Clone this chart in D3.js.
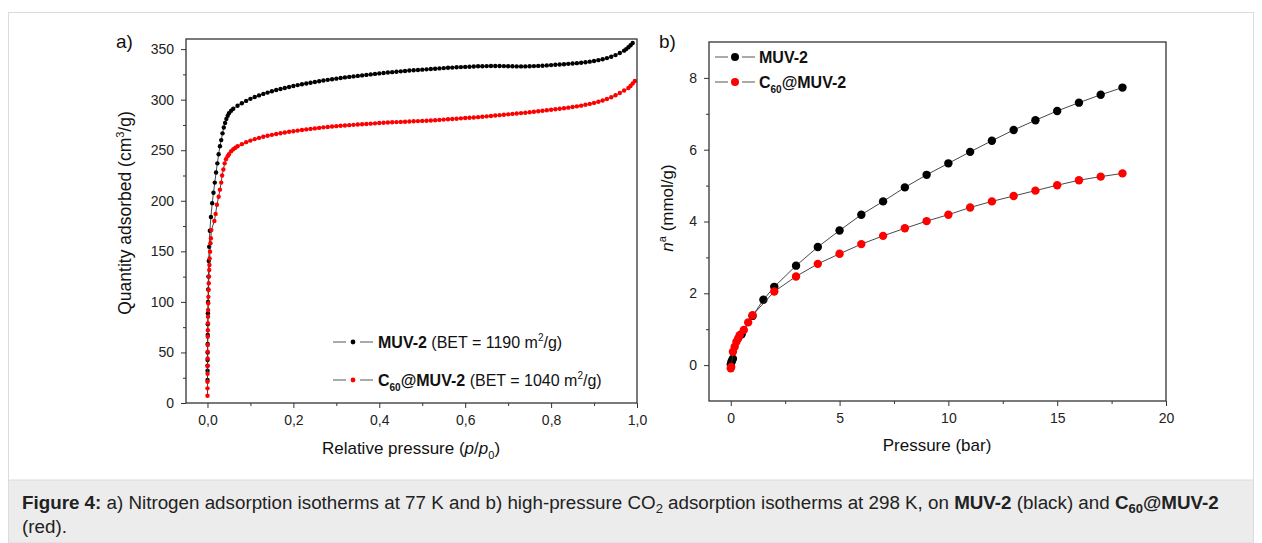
<!DOCTYPE html>
<html>
<head>
<meta charset="utf-8">
<script src="https://cdn.jsdelivr.net/npm/d3@7"></script>
<style>
  body { margin: 0; background: #fff; }
  svg { font-family: "Liberation Sans", Arial, sans-serif; }
  .tick text { font-size: 14px; fill: #222; }
  .tick line { stroke: #333; }
</style>
</head>
<body>
<svg id="fig" width="1262" height="543"></svg>
<script>
// a) N2 isotherms at 77 K, [p/p0, cm3/g]
const n2Muv2 = [
  [0.00005, 22.7], [0.0001, 32], [0.00015, 37], [0.0002, 42.5], [0.0003, 50], [0.0004, 58.4],
  [0.0006, 67.3], [0.0008, 78], [0.001, 88.7], [0.0013, 100], [0.0017, 112.4], [0.0022, 125],
  [0.003, 140.5], [0.004, 154.6], [0.0055, 170.4], [0.008, 184], [0.011, 197.5], [0.014, 208],
  [0.017, 218], [0.02, 228], [0.023, 237], [0.026, 246], [0.029, 254], [0.032, 260],
  [0.035, 266.7], [0.038, 272.5], [0.041, 277], [0.044, 281], [0.047, 284], [0.05, 286.5],
  [0.055, 289], [0.06, 291], [0.07, 294], [0.08, 296.5], [0.09, 298.8], [0.10, 300.8],
  [0.11, 302.6], [0.12, 304.2], [0.13, 305.7], [0.14, 307], [0.15, 308.3], [0.16, 309.5],
  [0.17, 310.6], [0.18, 311.6], [0.19, 312.6], [0.20, 313.5], [0.21, 314.4], [0.22, 315.2],
  [0.23, 316], [0.24, 316.8], [0.25, 317.5], [0.26, 318.2], [0.27, 318.9], [0.28, 319.6],
  [0.29, 320.2], [0.30, 320.8], [0.31, 321.4], [0.32, 322], [0.33, 322.5], [0.34, 323],
  [0.35, 323.5], [0.36, 324], [0.37, 324.5], [0.38, 325], [0.39, 325.5], [0.40, 326],
  [0.41, 326.4], [0.42, 326.8], [0.43, 327.2], [0.44, 327.6], [0.45, 328], [0.46, 328.4],
  [0.47, 328.8], [0.48, 329.1], [0.49, 329.4], [0.50, 329.7], [0.51, 330], [0.52, 330.3],
  [0.53, 330.6], [0.54, 330.9], [0.55, 331.2], [0.56, 331.5], [0.57, 331.7], [0.58, 332],
  [0.59, 332.2], [0.60, 332.4], [0.61, 332.6], [0.62, 332.8], [0.63, 333], [0.64, 333.1],
  [0.65, 333.2], [0.66, 333.3], [0.67, 333.3], [0.68, 333.3], [0.69, 333.2], [0.70, 333.1],
  [0.71, 333], [0.72, 332.9], [0.73, 332.9], [0.74, 332.9], [0.75, 333], [0.76, 333.2],
  [0.77, 333.4], [0.78, 333.6], [0.79, 333.9], [0.80, 334.2], [0.81, 334.5], [0.82, 334.8],
  [0.83, 335.1], [0.84, 335.4], [0.85, 335.7], [0.86, 336.1], [0.87, 336.5], [0.88, 337],
  [0.89, 337.6], [0.90, 338.3], [0.91, 339.1], [0.92, 340], [0.93, 341.1], [0.94, 342.5],
  [0.95, 344.1], [0.96, 346.2], [0.97, 348.5], [0.975, 350], [0.98, 351.8], [0.985, 353.8],
  [0.99, 356]
];
const n2C60 = [
  [0.00003, 7.2], [0.00006, 14.5], [0.0001, 21], [0.00015, 29], [0.0002, 36.6], [0.0003, 44],
  [0.0004, 50.8], [0.0005, 57.4], [0.0007, 65.6], [0.0009, 72], [0.0011, 78.8], [0.0013, 85.4],
  [0.0015, 92], [0.0018, 98.6], [0.0021, 105], [0.0025, 111.8], [0.003, 118.4], [0.0035, 125],
  [0.004, 131.6], [0.0045, 136.5], [0.005, 143], [0.006, 149.7], [0.007, 158], [0.008, 163],
  [0.009, 171], [0.016, 180], [0.019, 187], [0.022, 196], [0.026, 204], [0.029, 211],
  [0.032, 218], [0.034, 225], [0.037, 231], [0.04, 237], [0.043, 241], [0.047, 244],
  [0.05, 246], [0.055, 249], [0.06, 251], [0.065, 252.5], [0.07, 254], [0.08, 256],
  [0.09, 258], [0.10, 259.5], [0.11, 261], [0.12, 262.2], [0.13, 263.3], [0.14, 264.3],
  [0.15, 265.2], [0.16, 266], [0.17, 266.8], [0.18, 267.5], [0.19, 268.2], [0.20, 268.8],
  [0.21, 269.4], [0.22, 270], [0.23, 270.6], [0.24, 271.1], [0.25, 271.6], [0.26, 272.1],
  [0.27, 272.6], [0.28, 273], [0.29, 273.4], [0.30, 273.8], [0.31, 274.2], [0.32, 274.5],
  [0.33, 274.8], [0.34, 275.1], [0.35, 275.4], [0.36, 275.7], [0.37, 276], [0.38, 276.3],
  [0.39, 276.6], [0.40, 276.9], [0.41, 277.2], [0.42, 277.4], [0.43, 277.6], [0.44, 277.8],
  [0.45, 278], [0.46, 278.2], [0.47, 278.4], [0.48, 278.6], [0.49, 278.8], [0.50, 279],
  [0.51, 279.2], [0.52, 279.4], [0.53, 279.7], [0.54, 280], [0.55, 280.3], [0.56, 280.6],
  [0.57, 280.9], [0.58, 281.2], [0.59, 281.5], [0.60, 281.8], [0.61, 282.1], [0.62, 282.4],
  [0.63, 282.7], [0.64, 283.1], [0.65, 283.5], [0.66, 283.9], [0.67, 284.3], [0.68, 284.7],
  [0.69, 285.1], [0.70, 285.5], [0.71, 285.9], [0.72, 286.3], [0.73, 286.7], [0.74, 287.1],
  [0.75, 287.5], [0.76, 288], [0.77, 288.5], [0.78, 289], [0.79, 289.5], [0.80, 290],
  [0.81, 290.5], [0.82, 291], [0.83, 291.5], [0.84, 292.1], [0.85, 292.7], [0.86, 293.4],
  [0.87, 294.1], [0.88, 294.9], [0.89, 295.8], [0.90, 296.8], [0.91, 297.9], [0.92, 299.2],
  [0.93, 300.7], [0.94, 302.4], [0.95, 304.4], [0.96, 306.6], [0.97, 309], [0.98, 311.5],
  [0.985, 313.5], [0.99, 316], [0.995, 318.5]
];

// b) CO2 isotherms at 298 K, [bar, mmol/g]
const co2Muv2 = [
  [0.0, 0.02], [0.03, 0.08], [0.06, 0.13], [0.1, 0.18], [0.5, 0.86], [1.0, 1.37],
  [1.5, 1.82], [2, 2.18], [3, 2.77], [4, 3.29], [5, 3.75], [6, 4.19], [7, 4.56],
  [8, 4.95], [9, 5.30], [10, 5.62], [11, 5.94], [12, 6.25], [13, 6.55], [14, 6.82],
  [15, 7.08], [16, 7.31], [17, 7.53], [18, 7.73]
];
const co2C60 = [
  [0.0, -0.09], [0.02, -0.05], [0.1, 0.37], [0.18, 0.51], [0.26, 0.65], [0.34, 0.74],
  [0.41, 0.83], [0.6, 0.98], [0.8, 1.19], [1.0, 1.39], [2, 2.05], [3, 2.47], [4, 2.82],
  [5, 3.10], [6, 3.37], [7, 3.60], [8, 3.81], [9, 4.01], [10, 4.19], [11, 4.39],
  [12, 4.56], [13, 4.71], [14, 4.86], [15, 5.01], [16, 5.15], [17, 5.25], [18, 5.34]
];

const aXTicks = [0, 0.2, 0.4, 0.6, 0.8, 1.0];
const aXMinor = [0.1, 0.3, 0.5, 0.7, 0.9];
const aYTicks = [0, 50, 100, 150, 200, 250, 300, 350];
const aYMinor = [25, 75, 125, 175, 225, 275, 325];
const bXTicks = [0, 5, 10, 15, 20];
const bXMinor = [2.5, 7.5, 12.5, 17.5];
const bYTicks = [0, 2, 4, 6, 8];
const bYMinor = [1, 3, 5, 7];

const svg = d3.select('#fig');

// page frame and caption box
svg.append('rect')
  .attr('x', 8.5).attr('y', 12.5).attr('width', 1245).attr('height', 540)
  .attr('fill', 'none').attr('stroke', '#dcdcdc');
svg.append('rect')
  .attr('x', 8.5).attr('y', 480).attr('width', 1245).attr('height', 63)
  .attr('fill', '#ececec').attr('stroke', '#dcdcdc');

function drawFrame(g, x, y) {
  const [x0, x1] = x.range();
  const [y0, y1] = y.range();
  g.append('rect')
    .attr('x', x0).attr('y', y1)
    .attr('width', x1 - x0).attr('height', y0 - y1)
    .attr('fill', 'none').attr('stroke', '#333').attr('stroke-width', 1.3);
}

function drawAxes(g, x, y, opts) {
  const bottom = y.range()[0];
  const left = x.range()[0];

  g.append('g')
    .attr('transform', `translate(0, ${bottom})`)
    .call(d3.axisBottom(x).tickValues(opts.xMinor).tickSize(3).tickFormat(''))
    .call(a => a.select('.domain').remove());
  g.append('g')
    .attr('transform', `translate(0, ${bottom})`)
    .call(d3.axisBottom(x).tickValues(opts.xTicks).tickSize(5).tickPadding(7).tickFormat(opts.xFormat))
    .call(a => a.select('.domain').remove());

  g.append('g')
    .attr('transform', `translate(${left}, 0)`)
    .call(d3.axisLeft(y).tickValues(opts.yMinor).tickSize(3).tickFormat(''))
    .call(a => a.select('.domain').remove());
  g.append('g')
    .attr('transform', `translate(${left}, 0)`)
    .call(d3.axisLeft(y).tickValues(opts.yTicks).tickSize(5).tickPadding(7).tickFormat(opts.yFormat))
    .call(a => a.select('.domain').remove());
}

function drawSeries(g, data, x, y, color, r) {
  const line = d3.line()
    .x(d => x(d[0]))
    .y(d => y(d[1]));

  g.append('path')
    .datum(data)
    .attr('d', line)
    .attr('fill', 'none')
    .attr('stroke', '#333')
    .attr('stroke-width', 0.9);

  g.selectAll(null)
    .data(data)
    .enter()
    .append('circle')
    .attr('cx', d => x(d[0]))
    .attr('cy', d => y(d[1]))
    .attr('r', r)
    .attr('fill', color);
}

function legendSymbol(g, x, y, color, r) {
  g.append('line')
    .attr('x1', x).attr('x2', x + 40).attr('y1', y).attr('y2', y)
    .attr('stroke', '#555').attr('stroke-width', 1)
    .attr('stroke-dasharray', '13,14,13');
  g.append('circle')
    .attr('cx', x + 20).attr('cy', y).attr('r', r).attr('fill', color);
}

// ---------- panel a ----------
function drawPanelA() {
  const g = svg.append('g');
  const x = d3.scaleLinear().domain([-0.05, 1.0]).range([186, 637]);
  const y = d3.scaleLinear().domain([0, 360]).range([403, 39]);
  const comma = d => d3.format('.1f')(d).replace('.', ',');

  drawAxes(g, x, y, {
    xTicks: aXTicks, xMinor: aXMinor, xFormat: comma,
    yTicks: aYTicks, yMinor: aYMinor, yFormat: d3.format('d')
  });

  drawSeries(g, n2Muv2, x, y, '#000', 2.2);
  drawSeries(g, n2C60, x, y, '#ff0000', 2.2);
  drawFrame(g, x, y);

  // legend
  legendSymbol(g, 333, 342, '#000', 2.4);
  legendSymbol(g, 333, 380, '#ff0000', 2.4);

  const t1 = g.append('text').attr('x', 378).attr('y', 348).style('font-size', '16px').attr('fill', '#111');
  t1.append('tspan').style('font-weight', 'bold').text('MUV-2');
  t1.append('tspan').text(' (BET = 1190 m');
  t1.append('tspan').attr('dy', -7).style('font-size', '10px').text('2');
  t1.append('tspan').attr('dy', 7).text('/g)');

  const t2 = g.append('text').attr('x', 378).attr('y', 386).style('font-size', '16px').attr('fill', '#111');
  t2.append('tspan').style('font-weight', 'bold').text('C');
  t2.append('tspan').attr('dy', 5).style('font-size', '10px').style('font-weight', 'bold').text('60');
  t2.append('tspan').attr('dy', -5).style('font-weight', 'bold').text('@MUV-2');
  t2.append('tspan').text(' (BET = 1040 m');
  t2.append('tspan').attr('dy', -7).style('font-size', '10px').text('2');
  t2.append('tspan').attr('dy', 7).text('/g)');

  // axis titles
  const xt = g.append('text').attr('x', 411).attr('y', 454)
    .attr('text-anchor', 'middle').style('font-size', '17px').attr('fill', '#111');
  xt.append('tspan').text('Relative pressure (');
  xt.append('tspan').style('font-style', 'italic').text('p');
  xt.append('tspan').text('/');
  xt.append('tspan').style('font-style', 'italic').text('p');
  xt.append('tspan').attr('dy', 5).style('font-size', '11px').text('0');
  xt.append('tspan').attr('dy', -5).text(')');

  const yt = g.append('text')
    .attr('transform', 'translate(131, 213) rotate(-90)')
    .attr('text-anchor', 'middle').style('font-size', '17.5px').attr('fill', '#111');
  yt.append('tspan').text('Quantity adsorbed (cm');
  yt.append('tspan').attr('dy', -7).style('font-size', '11px').text('3');
  yt.append('tspan').attr('dy', 7).text('/g)');

  g.append('text').attr('x', 116).attr('y', 48).style('font-size', '19px').attr('fill', '#111').text('a)');
}

// ---------- panel b ----------
function drawPanelB() {
  const g = svg.append('g');
  const x = d3.scaleLinear().domain([-1, 20]).range([709, 1166]);
  const y = d3.scaleLinear().domain([-1, 9]).range([401, 42]);

  drawAxes(g, x, y, {
    xTicks: bXTicks, xMinor: bXMinor, xFormat: d3.format('d'),
    yTicks: bYTicks, yMinor: bYMinor, yFormat: d3.format('d')
  });

  drawSeries(g, co2Muv2, x, y, '#000', 4.2);
  drawSeries(g, co2C60, x, y, '#ff0000', 4.2);
  drawFrame(g, x, y);

  legendSymbol(g, 715, 57, '#000', 4);
  legendSymbol(g, 715, 82, '#ff0000', 4);

  g.append('text').attr('x', 759).attr('y', 63)
    .style('font-size', '16px').style('font-weight', 'bold').attr('fill', '#111').text('MUV-2');
  const t2 = g.append('text').attr('x', 759).attr('y', 88)
    .style('font-size', '16px').style('font-weight', 'bold').attr('fill', '#111');
  t2.append('tspan').text('C');
  t2.append('tspan').attr('dy', 5).style('font-size', '10px').text('60');
  t2.append('tspan').attr('dy', -5).text('@MUV-2');

  g.append('text').attr('x', 937).attr('y', 451)
    .attr('text-anchor', 'middle').style('font-size', '17px').attr('fill', '#111')
    .text('Pressure (bar)');

  const yt = g.append('text')
    .attr('transform', 'translate(673, 208) rotate(-90)')
    .attr('text-anchor', 'middle').style('font-size', '17px').attr('fill', '#111');
  yt.append('tspan').style('font-style', 'italic').text('n');
  yt.append('tspan').attr('dy', -7).style('font-size', '11px').text('a');
  yt.append('tspan').attr('dy', 7).text(' (mmol/g)');

  g.append('text').attr('x', 659).attr('y', 48).style('font-size', '19px').attr('fill', '#111').text('b)');
}

// ---------- caption ----------
function drawCaption() {
  const c = svg.append('text').attr('x', 22).attr('y', 509)
    .style('font-size', '18.8px').attr('fill', '#222');
  c.append('tspan').style('font-weight', 'bold').text('Figure 4:');
  c.append('tspan').text(' a) Nitrogen adsorption isotherms at 77 K and b) high-pressure CO');
  c.append('tspan').attr('dy', 4).style('font-size', '13px').text('2');
  c.append('tspan').attr('dy', -4).text(' adsorption isotherms at 298 K, on ');
  c.append('tspan').style('font-weight', 'bold').text('MUV-2');
  c.append('tspan').text(' (black) and ');
  c.append('tspan').style('font-weight', 'bold').text('C');
  c.append('tspan').attr('dy', 4).style('font-size', '13px').style('font-weight', 'bold').text('60');
  c.append('tspan').attr('dy', -4).style('font-weight', 'bold').text('@MUV-2');

  svg.append('text').attr('x', 22).attr('y', 533)
    .style('font-size', '18.8px').attr('fill', '#222').text('(red).');
}

drawPanelA();
drawPanelB();
drawCaption();
</script>
</body>
</html>
